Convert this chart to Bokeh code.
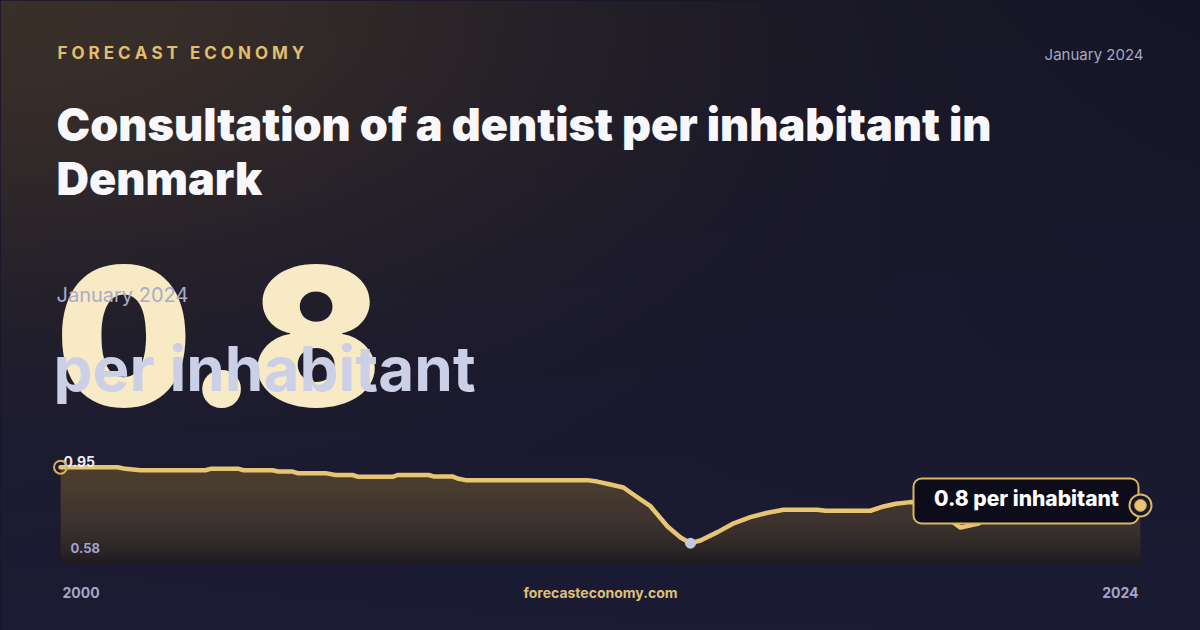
import numpy as np
from bokeh.plotting import figure
from bokeh.models import Range1d, BoxAnnotation, GlobalInlineStyleSheet
from bokeh.core.properties import value
from bokeh.embed import file_html
from bokeh.resources import INLINE

# ---------------- data ----------------
years = [2000.0, 2001.27, 2001.44, 2001.78, 2003.22, 2003.33, 2003.96, 2004.07, 2004.71, 2004.84,
         2005.16, 2005.27, 2005.89, 2006.11, 2006.49, 2006.62, 2007.38, 2007.49, 2008.18, 2008.29,
         2008.71, 2008.82, 2009.0, 2011.71, 2011.93, 2012.22, 2012.51, 2012.73, 2013.11, 2013.49,
         2013.78, 2014.0, 2014.22, 2014.6, 2014.96, 2015.33, 2015.71, 2016.07, 2016.82, 2017.0,
         2018.0, 2018.29, 2018.56, 2018.89, 2019.22, 2019.56, 2020.0, 2020.4, 2020.78, 2021.33,
         2022.22, 2023.11, 2024.0]
values = [0.950, 0.950, 0.942, 0.935, 0.935, 0.942, 0.942, 0.935, 0.935, 0.929,
          0.929, 0.921, 0.921, 0.912, 0.912, 0.903, 0.903, 0.912, 0.912, 0.905,
          0.905, 0.895, 0.887, 0.887, 0.880, 0.866, 0.851, 0.817, 0.760, 0.661,
          0.608, 0.580, 0.593, 0.634, 0.677, 0.707, 0.728, 0.743, 0.743, 0.738,
          0.738, 0.759, 0.772, 0.780, 0.779, 0.729, 0.656, 0.676, 0.729, 0.764,
          0.773, 0.768, 0.764]
brand = "FORECAST ECONOMY"
title_lines = ["Consultation of a dentist per inhabitant in", "Denmark"]
period = "January 2024"
unit = "per inhabitant"
site = "forecasteconomy.com"

W, H = 1200, 630
GOLD = "#e8c572"
FONT = value("Inter")
HEAVY = value("Inter Black")
XBOLD = value("Inter ExtraBold")

def Y(py):
    return H - py

def TB(baseline_py, size):
    # y for a text whose alphabetic baseline should sit at screen row baseline_py
    return Y(baseline_py - 0.38 * size)

p = figure(width=W, height=H, x_range=Range1d(0, W), y_range=Range1d(0, H),
           output_backend="svg", toolbar_location=None, min_border=0,
           outline_line_color=None)
p.axis.visible = False
p.grid.visible = False
p.background_fill_color = "#17172c"
p.border_fill_color = "#17172c"
p.stylesheets = [GlobalInlineStyleSheet(css="html,body{margin:0!important;padding:0;background:#17172c;overflow:hidden}")]

# ---------------- background gradient ----------------
gw, gh = 600, 315
xs = np.linspace(0, W, gw)[None, :]
ys = np.linspace(0, H, gh)[:, None]
t = (ys / H)[..., None]
top = np.array([21, 21, 38], float)
bot = np.array([27, 27, 52], float)
base = top * (1 - t) + bot * t
base = np.broadcast_to(base, (gh, gw, 3))
g = np.exp(-((xs / 620.0) ** 2 + (ys / 300.0) ** 2))[..., None] * 0.95
warm = np.array([60, 49, 42], float)
col = base * (1 - g) + warm * g
rgba = np.zeros((gh, gw, 4), dtype=np.uint8)
rgba[..., :3] = np.clip(col, 0, 255).astype(np.uint8)
rgba[..., 3] = 255
img = rgba[::-1].copy().view(dtype=np.uint32).reshape(gh, gw)
p.image_rgba(image=[img], x=0, y=0, dw=W, dh=H)

# ---------------- chart scales (extra ranges over the full frame) ----------------
vmax, vmin = max(values), min(values)
PX_L, PX_R = 60, 1140          # screen x of first / last year
PY_MAX, PY_MIN = 466.7, 542.7  # screen y of max / min value
PY_BASE = 564                  # bottom of the area
kx = (years[-1] - years[0]) / (PX_R - PX_L)
ky = (vmax - vmin) / (PY_MIN - PY_MAX)
p.extra_x_ranges = {"yr": Range1d(years[0] - PX_L * kx, years[-1] + (W - PX_R) * kx)}
p.extra_y_ranges = {"val": Range1d(vmax - (H - PY_MAX) * ky, vmax + PY_MAX * ky)}
vbase = vmax - (PY_BASE - PY_MAX) * ky

yv = np.array(values)
p.varea(x=years, y1=vbase, y2=values, fill_color="#1a1822", x_range_name="yr", y_range_name="val")
for th in np.linspace(vbase, vmax, 30):
    p.varea(x=years, y1=np.minimum(yv, th), y2=yv, fill_color="#54483c", fill_alpha=0.065,
            x_range_name="yr", y_range_name="val")

p.line(years, values, line_color=GOLD, line_width=4.5, line_join="round", line_cap="round",
       x_range_name="yr", y_range_name="val")

# ---------------- big number block ----------------
last = values[-1]
p.text(x=[55], y=[TB(408, 192)], text=[f"{last:.1f}"], text_font=HEAVY, text_font_style="bold",
       text_font_size="192px", text_color="#f8eac4", text_baseline="alphabetic")
p.text(x=[56], y=[TB(302, 20)], text=[period], text_font=FONT, text_font_size="20px",
       text_color="#aaacc8", text_baseline="alphabetic")
p.text(x=[53], y=[TB(392, 62)], text=[unit], text_font=FONT, text_font_style="bold",
       text_font_size="62px", text_color="#ccd0e6", text_baseline="alphabetic")

# ---------------- header ----------------
brand_txt = "\u2009\u200a".join(list(brand))
p.text(x=[57], y=[TB(59, 17)], text=[brand_txt],
       text_font=FONT, text_font_style="bold", text_font_size="17px", text_color="#e0be6e",
       text_baseline="alphabetic")
p.text(x=[1143], y=[TB(60, 15)], text=[period], text_font=FONT, text_font_size="15px",
       text_color="#a5a8c6", text_align="right", text_baseline="alphabetic")
p.text(x=[56, 56], y=[TB(141, 45), TB(195, 45)], text=title_lines, text_font=HEAVY,
       text_font_style="bold", text_font_size="45px", text_color="#f8f8fc",
       text_baseline="alphabetic")

# ---------------- value labels ----------------
p.text(x=[63], y=[TB(466, 14)], text=[f"{vmax:.2f}"], text_font=FONT, text_font_style="bold",
       text_font_size="14px", text_color="#ececf4", text_baseline="alphabetic")
p.text(x=[70], y=[TB(552, 13)], text=[f"{vmin:.2f}"], text_font=FONT, text_font_style="bold",
       text_font_size="13px", text_color="#a0a5c8", text_baseline="alphabetic")

# markers
p.scatter([years[0]], [values[0]], size=13, fill_alpha=0, line_color="#d6b35e", line_width=2,
          x_range_name="yr", y_range_name="val")
imin = values.index(vmin)
p.scatter([years[imin]], [values[imin]], size=11, fill_color="#c3c7df", line_color=None,
          x_range_name="yr", y_range_name="val")

# end label box
box = BoxAnnotation(left=913, right=1138, top=Y(478), bottom=Y(523), fill_color="#0c0c1b",
                    fill_alpha=1, line_color="#d8b762", line_alpha=1, line_width=2,
                    border_radius=8)
p.add_layout(box)
lt = p.text(x=[1026], y=[TB(506, 21)], text=[f"{last:.1f} {unit}"], text_font=XBOLD,
            text_font_style="bold", text_font_size="21px", text_color="#ffffff",
            text_align="center", text_baseline="alphabetic")
lt.level = "overlay"
r1 = p.scatter([years[-1]], [values[-1]], size=22, fill_color="#17172c", line_color="#d8b762",
               line_width=2, x_range_name="yr", y_range_name="val")
r2 = p.scatter([years[-1]], [values[-1]], size=12, fill_color=GOLD, line_color="#b8954a",
               line_width=1, x_range_name="yr", y_range_name="val")
r1.level = "overlay"
r2.level = "overlay"

# ---------------- footer ----------------
p.text(x=[62], y=[TB(597, 14)], text=[f"{int(years[0])}"], text_font=FONT, text_font_style="bold",
       text_font_size="14px", text_color="#a3a7c7", text_baseline="alphabetic")
p.text(x=[1138], y=[TB(597, 14)], text=[f"{int(years[-1])}"], text_font=FONT,
       text_font_style="bold", text_font_size="14px", text_color="#a3a7c7", text_align="right",
       text_baseline="alphabetic")
p.text(x=[600], y=[TB(597, 14)], text=[site], text_font=FONT, text_font_style="bold",
       text_font_size="14px", text_color="#dcc078", text_align="center", text_baseline="alphabetic")

open("out.html", "w").write(file_html(p, INLINE))
